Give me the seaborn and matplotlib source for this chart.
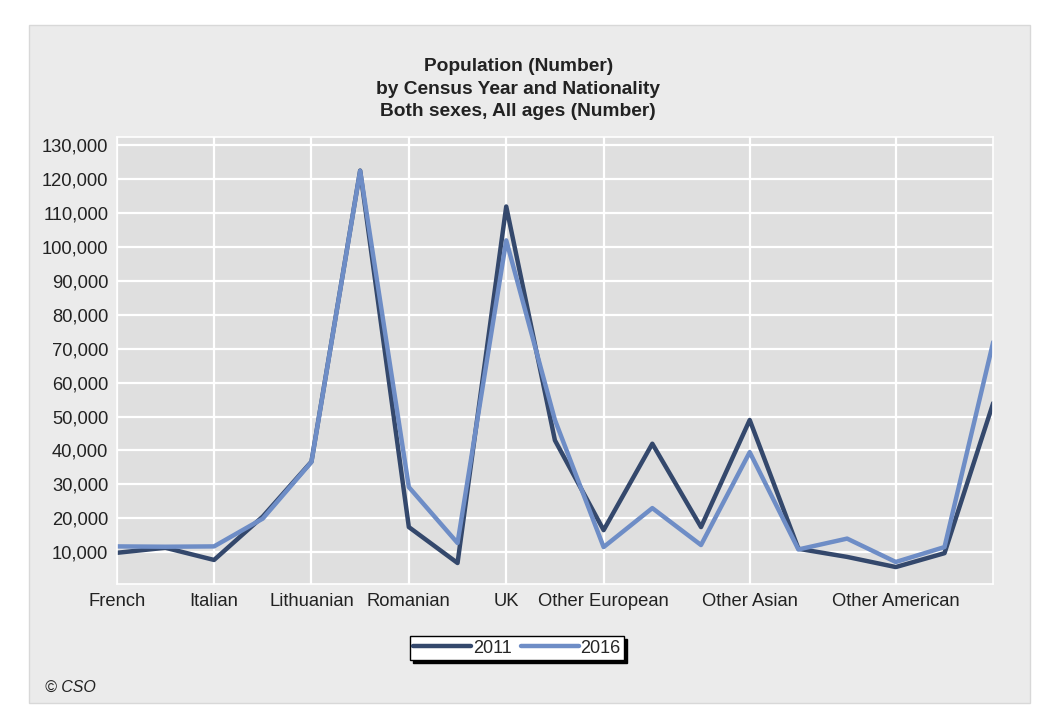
import numpy as np
import pandas as pd
import matplotlib
matplotlib.use("Agg")
import matplotlib.pyplot as plt
from matplotlib.patches import Rectangle
from matplotlib.ticker import FuncFormatter
import seaborn as sns

# categories along x (only some are labelled on the axis)
nationalities = ["French", "German", "Italian", "Latvian", "Lithuanian", "Polish",
                 "Romanian", "Spanish", "UK", "Other EU 28", "Other European",
                 "African", "Indian", "Other Asian", "American (US)", "Brazilian",
                 "Other American", "Other nationalities", "Not stated"]
shown_labels = ["French", "Italian", "Lithuanian", "Romanian", "UK",
                "Other European", "Other Asian", "Other American"]

pop_2011 = [9800, 11300, 7700, 20500, 36700, 122600, 17400, 6800, 112000, 43000,
            16500, 42000, 17400, 49000, 11000, 8600, 5600, 9700, 54000]
pop_2016 = [11700, 11600, 11700, 19900, 36600, 122500, 29200, 12700, 102000, 49000,
            11500, 23000, 12100, 39500, 10800, 14000, 7100, 11500, 72000]

years = ["2011", "2016"]
colours = ["#34486c", "#6e8dc6"]

df = pd.DataFrame({
    "pos": list(range(len(nationalities))) * 2,
    "nationality": nationalities * 2,
    "value": pop_2011 + pop_2016,
    "year": [years[0]] * len(nationalities) + [years[1]] * len(nationalities),
})

sns.set_theme(style="white")
plt.rcParams["font.family"] = ["Liberation Sans", "DejaVu Sans"]

fig = plt.figure(figsize=(10.51, 7.25), dpi=100)
fig.patch.set_facecolor("white")

# grey card behind the chart
card = Rectangle((0.028, 0.03), 0.952, 0.935, transform=fig.transFigure,
                 facecolor="#ebebeb", edgecolor="#d8d8d8", lw=1.0, zorder=-5)
fig.add_artist(card)

ax = fig.add_axes([0.111, 0.194, 0.834, 0.617])
ax.set_zorder(1)
ax.set_facecolor("#dfdfdf")

sns.lineplot(data=df, x="pos", y="value", hue="year", palette=colours,
             linewidth=3.2, ax=ax, legend=False, sort=False)

ax.set_xlim(0, len(nationalities) - 1)
ax.set_ylim(500, 132500)
ax.set_yticks(np.arange(10000, 130001, 10000))
ax.yaxis.set_major_formatter(FuncFormatter(lambda v, p: f"{int(v):,}"))
tick_pos = [nationalities.index(n) for n in shown_labels]
ax.set_xticks(tick_pos)
ax.set_xticklabels(shown_labels)
ax.tick_params(axis="both", labelsize=13.2, colors="#222222", length=0, pad=6)
ax.set_xlabel("")
ax.set_ylabel("")
ax.grid(True, color="white", linewidth=1.6)
ax.set_axisbelow(True)
for s in ax.spines.values():
    s.set_color("white")
    s.set_linewidth(1.2)

fig.text(0.493, 0.877, "Population (Number)\nby Census Year and Nationality\nBoth sexes, All ages (Number)",
         ha="center", va="center", fontsize=13.8, fontweight="bold", color="#222222",
         linespacing=1.4, zorder=2)

handles = [plt.Line2D([], [], color=c, lw=3.2) for c in colours]
leg = fig.legend(handles, years, loc="center", bbox_to_anchor=(0.492, 0.106), ncol=2,
                 frameon=True, fancybox=False, fontsize=13, handlelength=3.2,
                 handletextpad=0.1, columnspacing=0.5, borderpad=0.2,
                 shadow={"color": "black", "alpha": 1.0})
leg.get_frame().set_edgecolor("black")
leg.get_frame().set_linewidth(1.0)
leg.get_frame().set_facecolor("white")
leg.set_zorder(3)

fig.text(0.043, 0.046, "© CSO", fontsize=11.5, style="italic", color="#222222", zorder=2)

fig.savefig("out.png", dpi=100)
